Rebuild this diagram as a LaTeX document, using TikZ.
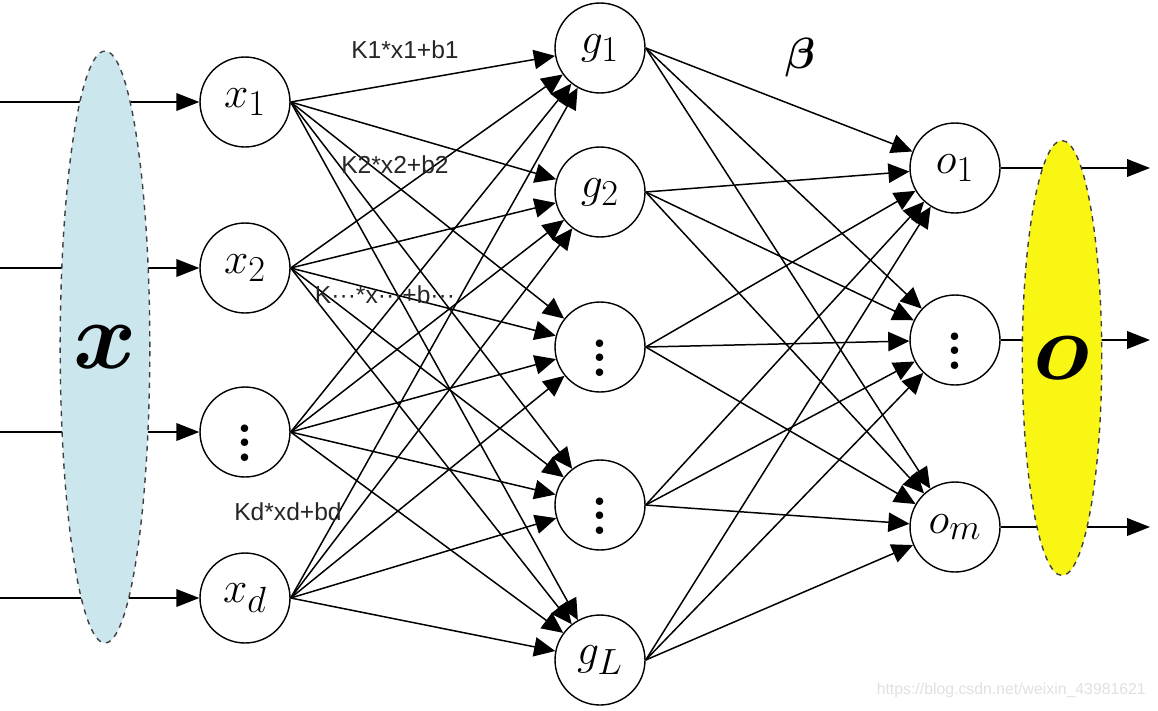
\documentclass[tikz,border=0pt]{standalone}
\usepackage{fontspec}
\setsansfont{Liberation Sans}
\usepackage{bm}
\usetikzlibrary{arrows.meta,shapes.geometric}
\definecolor{setblue}{RGB}{204,230,238}
\definecolor{setyellow}{RGB}{250,246,20}
\newcommand{\vdotsbig}{\scalebox{2.1}{$\vdots$}}

\begin{document}
\begin{tikzpicture}[
  x=0.02cm, y=-0.02cm,
  neuron/.style={draw, circle, fill=white, line width=0.8pt, minimum size=1.8cm,
    inner sep=0pt, font=\fontsize{24.88}{28}\selectfont},
  link/.style={line width=0.85pt, -{Triangle[length=12pt,width=11pt]}},
  feed/.style={line width=0.85pt, -{Triangle[length=13pt,width=10pt]}},
  bigset/.style={draw=black!75, dashed, ellipse, line width=0.8pt, inner sep=0pt},
  weight/.style={font=\sffamily\fontsize{14}{16}\selectfont, text=black!85}
]
  \useasboundingbox (0,0) rectangle (1158,710);

  % input layer
  \node[neuron] (x1) at (245,102) {$x_1$};
  \node[neuron] (x2) at (245,268) {$x_2$};
  \node[neuron] (x3) at (245,432) {\vdotsbig};
  \node[neuron] (x4) at (245,598) {$x_d$};
  % hidden layer
  \node[neuron] (g1) at (600,48) {$g_1$};
  \node[neuron] (g2) at (600,192) {$g_2$};
  \node[neuron] (g3) at (600,347) {\vdotsbig};
  \node[neuron] (g4) at (600,505) {\vdotsbig};
  \node[neuron] (g5) at (600,660) {$g_L$};
  % output layer
  \node[neuron] (o1) at (955,168) {$o_1$};
  \node[neuron] (o2) at (955,340) {\vdotsbig};
  \node[neuron] (o3) at (955,527) {$o_m$};

  \foreach \i/\y in {1/102,2/268,3/432,4/598} {
    \coordinate (in\i) at (0,\y);
    \draw[feed] (in\i) -- (x\i);
  }
  \foreach \k/\y in {1/168,2/340,3/527} {
    \coordinate (out\k) at (1150,\y);
    \draw[feed] (o\k) -- (out\k);
  }

  \foreach \i in {1,...,4}
    \foreach \j in {1,...,5}
      \draw[link] (x\i.east) -- (g\j);
  \foreach \j in {1,...,5}
    \foreach \k in {1,2,3}
      \draw[link] (g\j.east) -- (o\k);

  \node[bigset, fill=setblue, minimum width=1.6cm, minimum height=11.84cm]
    (X) at (105,347) {\fontsize{24.88}{28}\selectfont\scalebox{2.2}{$\bm{x}$}};
  \node[bigset, fill=setyellow, minimum width=1.5cm, minimum height=8.7cm]
    (O) at (1062,358) {\fontsize{24.88}{28}\selectfont\scalebox{2.2}{$\bm{o}$}};

  \node[weight] (w1) at (405,50) {K1*x1+b1};
  \node[weight] (w2) at (395,165) {K2*x2+b2};
  \node[weight] (w3) at (385,295) {K···*x···+b···};
  \node[weight] (w4) at (288,512) {Kd*xd+bd};
  \node (beta) at (800,58) {\fontsize{24.88}{28}\selectfont$\bm{\beta}$};

  \node[anchor=east, text=black!12, font=\sffamily\fontsize{9}{10}\selectfont]
    (mark) at (1152,690) {https://blog.csdn.net/weixin\_43981621};
\end{tikzpicture}
\end{document}
